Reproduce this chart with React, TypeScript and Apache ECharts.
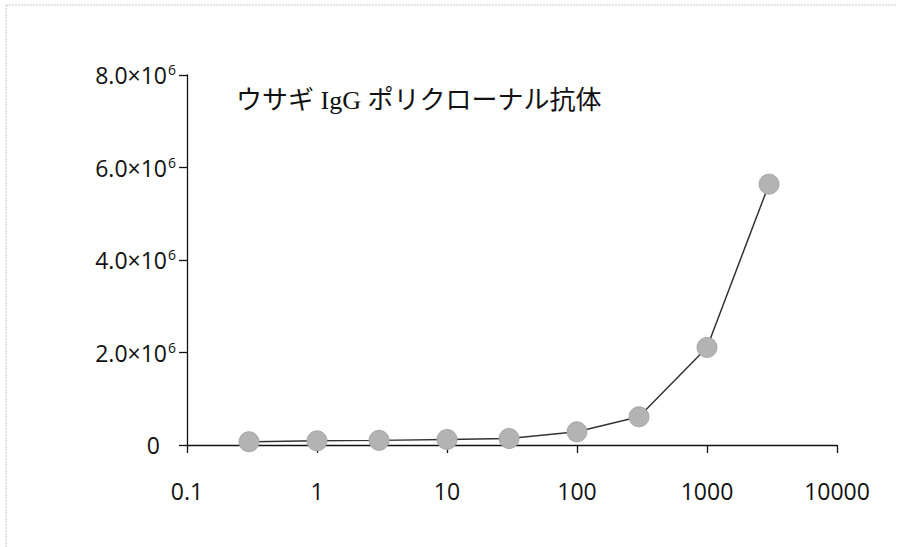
import React, { useEffect, useRef } from "react";
import * as echarts from "echarts";

// Dilution series (x) and measured signal (y)
const concentrations = [0.3, 1, 3, 10, 30, 100, 300, 1000, 3000];
const signals = [70000, 90000, 100000, 120000, 140000, 285000, 610000, 2110000, 5640000];

const xTickLabels = ["0.1", "1", "10", "100", "1000", "10000"];
const yTickMantissas = ["0", "2.0", "4.0", "6.0", "8.0"];
const yExponent = "6";
const chartTitle = "ウサギ IgG ポリクローナル抗体";

export default function App() {
  const ref = useRef<HTMLDivElement>(null);

  useEffect(() => {
    if (!ref.current) return;
    const chart = echarts.init(ref.current, null, { renderer: "svg" });
    const labelFont = "'Open Sans', 'Liberation Sans', sans-serif";

    chart.setOption({
      animation: false,
      backgroundColor: "#ffffff",
      grid: { left: 187, right: 60, top: 75, bottom: 102, containLabel: false },
      xAxis: {
        type: "log",
        logBase: 10,
        min: 0.1,
        max: 10000,
        axisLine: { show: true, onZero: false, lineStyle: { color: "#111", width: 1.3 } },
        axisTick: { show: true, inside: false, length: 8, lineStyle: { color: "#111", width: 1.3 } },
        minorTick: { show: false },
        splitLine: { show: false },
        axisLabel: {
          margin: 34,
          color: "#111",
          fontSize: 23,
          fontFamily: labelFont,
          formatter: (_v: number, i: number) => xTickLabels[i] ?? "",
        },
      },
      yAxis: {
        type: "value",
        min: 0,
        max: 8000000,
        interval: 2000000,
        axisLine: { show: true, lineStyle: { color: "#111", width: 1.3 } },
        axisTick: { show: true, inside: false, length: 8, lineStyle: { color: "#111", width: 1.3 } },
        splitLine: { show: false },
        axisLabel: {
          margin: 11,
          color: "#111",
          fontFamily: labelFont,
          formatter: (_v: number, i: number) => {
            const m = yTickMantissas[i] ?? "";
            if (m === "0") return `{zero|${m}}`;
            return `{m|${m}×10}{s|${yExponent}}`;
          },
          rich: {
            m: { fontSize: 23, fontFamily: labelFont, color: "#111", verticalAlign: "middle" },
            s: { fontSize: 14, fontFamily: labelFont, color: "#111", verticalAlign: "top", padding: [0, 0, 11, 1] },
            zero: { fontSize: 23, fontFamily: labelFont, color: "#111", padding: [0, 16, 0, 0] },
          },
        },
      },
      graphic: [
        {
          type: "text",
          left: 236,
          top: 87,
          style: {
            text: chartTitle,
            font: "normal 26px 'Liberation Serif', 'Noto Sans CJK JP', serif",
            fill: "#111",
          },
        },
        {
          type: "line",
          shape: { x1: 6, y1: 5, x2: 897, y2: 5 },
          style: { stroke: "#c8c8c8", lineWidth: 1, lineDash: [2, 1] },
        },
        {
          type: "line",
          shape: { x1: 6, y1: 5, x2: 6, y2: 547 },
          style: { stroke: "#c8c8c8", lineWidth: 1, lineDash: [2, 1] },
        },
      ],
      series: [
        {
          type: "line",
          data: concentrations.map((c, i) => [c, signals[i]]),
          symbol: "circle",
          symbolSize: 20,
          lineStyle: { color: "#333", width: 1.5 },
          itemStyle: { color: "#b3b3b3", borderColor: "#a6a6a6", borderWidth: 1 },
          z: 3,
        },
      ],
    });

    return () => chart.dispose();
  }, []);

  return (
    <div
      ref={ref}
      style={{ position: "fixed", left: 0, top: 0, width: 897, height: 547, background: "#fff" }}
    />
  );
}
